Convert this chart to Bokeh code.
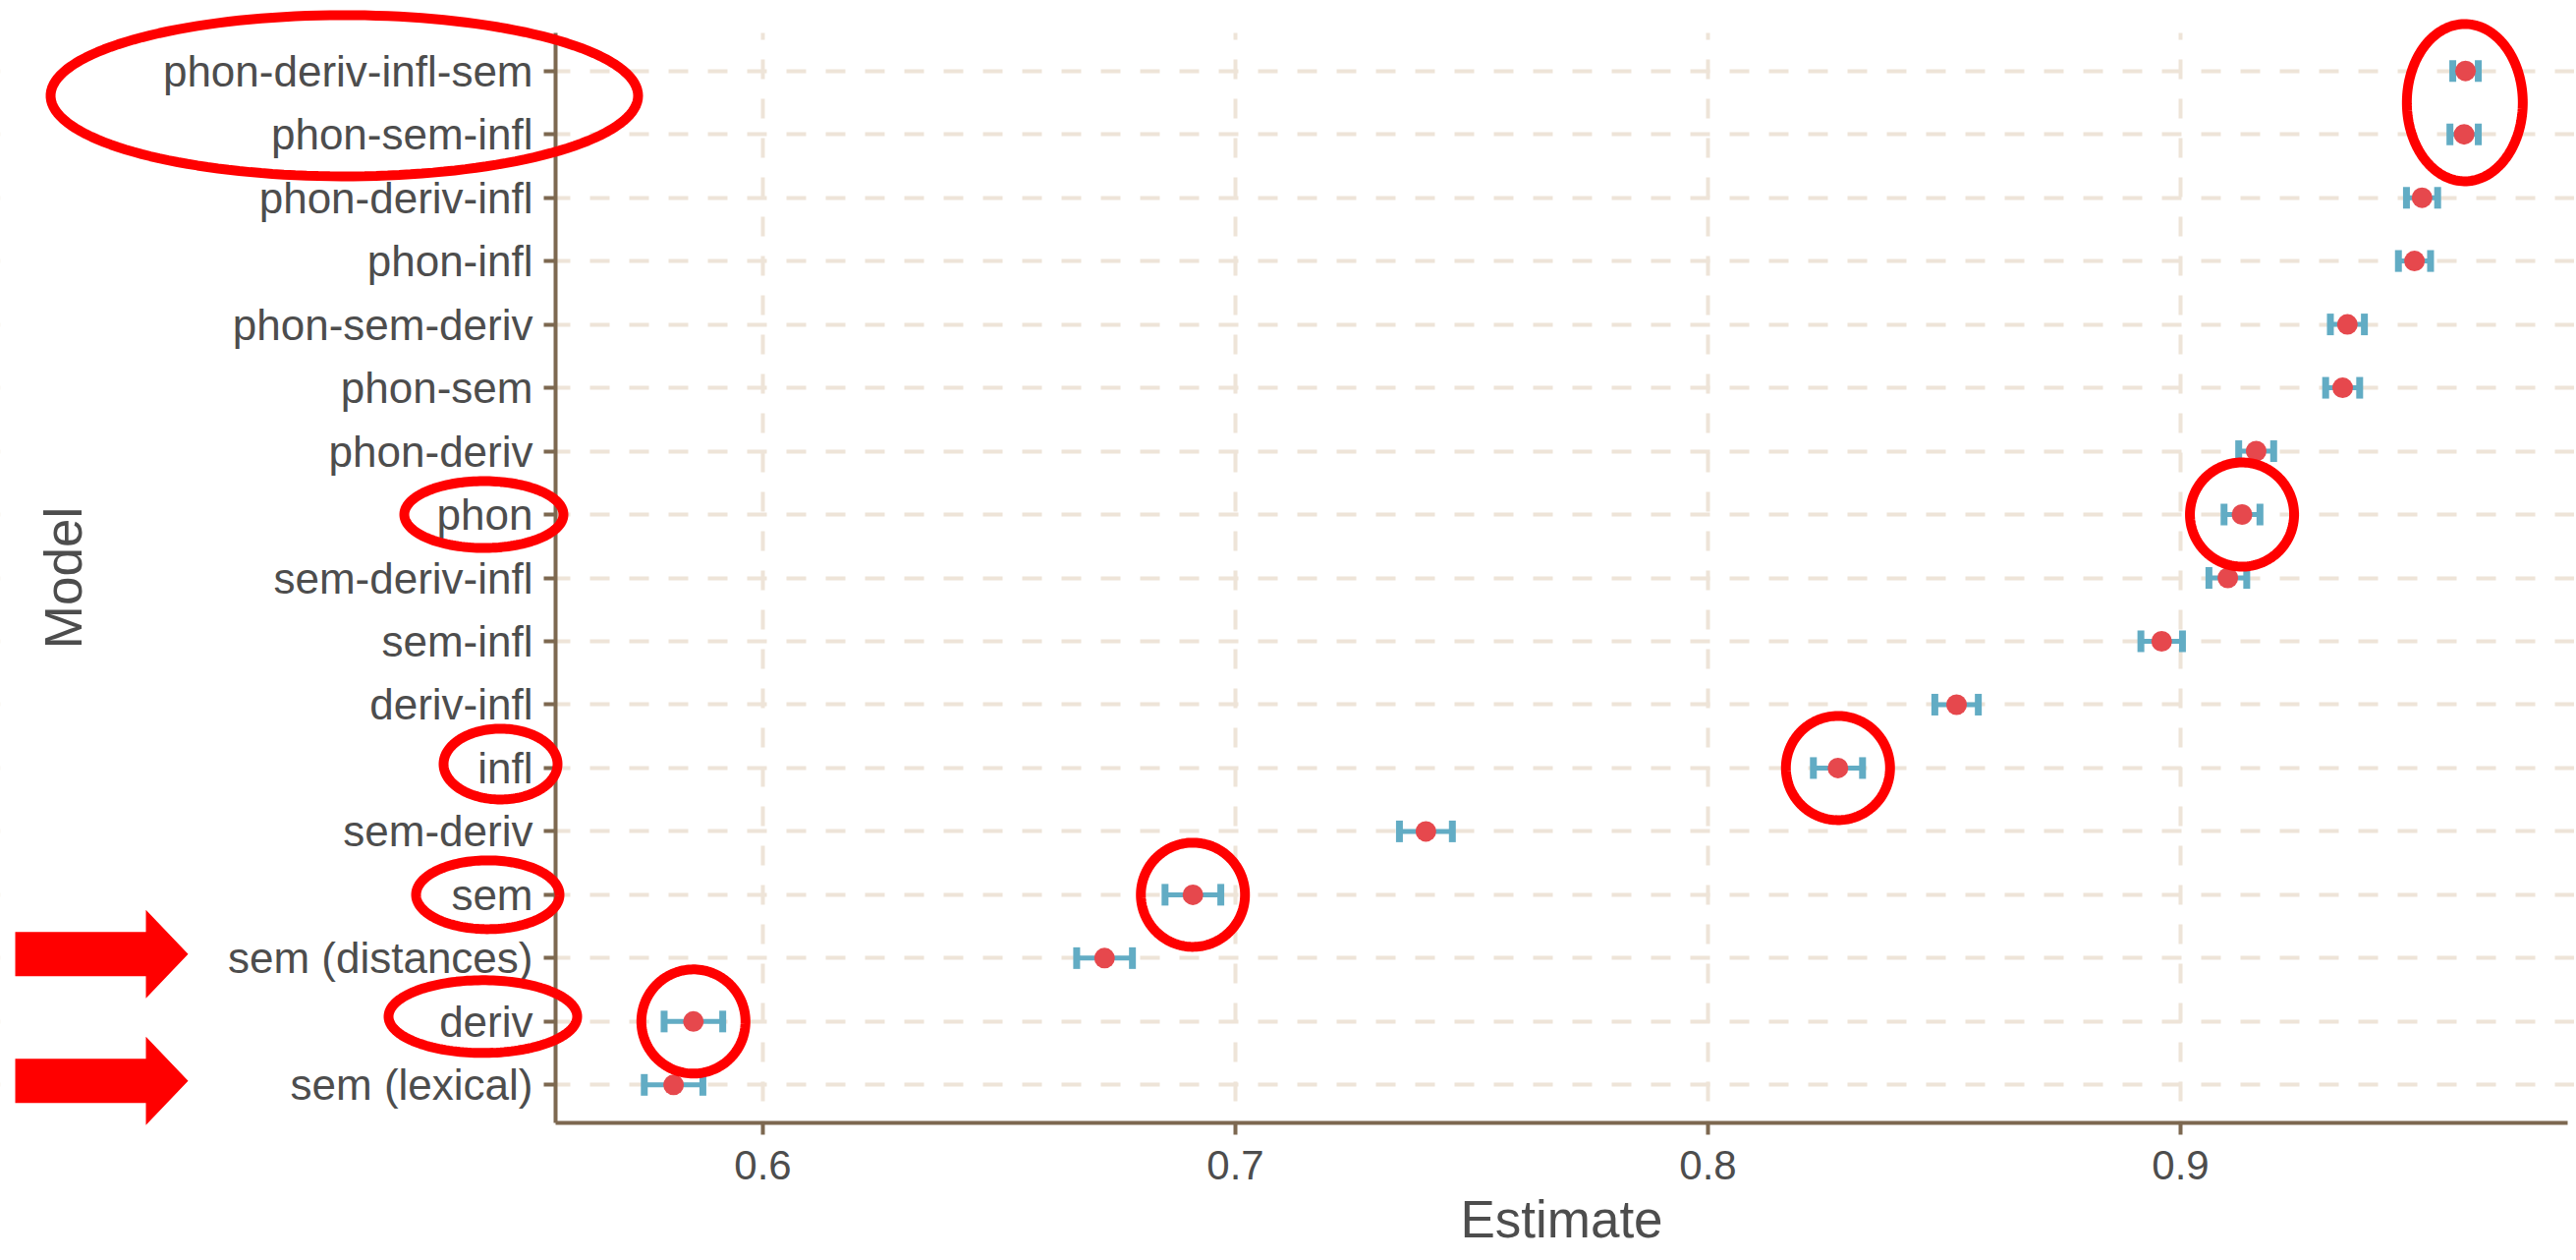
import numpy as np
from bokeh.plotting import figure
from bokeh.models import (ColumnDataSource, Range1d, FixedTicker, Whisker, TeeHead,
                          PolyAnnotation, BoxAnnotation)
from bokeh.embed import file_html
from bokeh.resources import INLINE

# ---------------- data (top to bottom) ----------------
models = ["phon-deriv-infl-sem", "phon-sem-infl", "phon-deriv-infl", "phon-infl",
          "phon-sem-deriv", "phon-sem", "phon-deriv", "phon", "sem-deriv-infl",
          "sem-infl", "deriv-infl", "infl", "sem-deriv", "sem", "sem (distances)",
          "deriv", "sem (lexical)"]
estimates = [0.9603, 0.9600, 0.9511, 0.9495, 0.9353, 0.9343, 0.9160, 0.9130, 0.9100,
             0.8960, 0.8526, 0.8275, 0.7403, 0.6910, 0.6723, 0.5853, 0.5811]
ci_half = [0.0027, 0.0030, 0.0033, 0.0034, 0.0036, 0.0036, 0.0037, 0.0038, 0.0040,
           0.0044, 0.0046, 0.0052, 0.0056, 0.0059, 0.0059, 0.0062, 0.0062]
x_ticks = [0.6, 0.7, 0.8, 0.9]

# highlighted groups (red ovals) and arrowed rows
highlight_groups = [["phon-deriv-infl-sem", "phon-sem-infl"], ["phon"], ["infl"], ["sem"], ["deriv"]]
arrow_models = ["sem (distances)", "sem (lexical)"]

# ---------------- layout ----------------
W, H = 2620, 1280
DATA_W, DATA_H = 2048, 1109          # panel size in px
PAD_L, PAD_R, PAD_T, PAD_B = 565, W - 565 - 2048, 33, H - 33 - 1109

n = len(models)
ypos = [n - i for i in range(n)]
lows = [e - h for e, h in zip(estimates, ci_half)]
highs = [e + h for e, h in zip(estimates, ci_half)]
x0, x1 = 0.55613, 0.98191
y0, y1 = 0.4, n + 0.6
ppx = DATA_W / (x1 - x0)
ppy = DATA_H / (y1 - y0)
fx0, fx1 = x0 - PAD_L / ppx, x1 + PAD_R / ppx
fy0, fy1 = y0 - PAD_B / ppy, y1 + PAD_T / ppy

AXIS = "#7D6850"
GRID = "#EEE4D8"
RED_PT = "#E6484D"
TEAL = "#62ACC4"
TXT = "#4D4D4D"
FONT = "Liberation Sans"
HL = "#FF0000"

p = figure(width=W, height=H, x_range=Range1d(fx0, fx1), y_range=Range1d(fy0, fy1),
           output_backend="svg", toolbar_location=None,
           min_border_left=0, min_border_right=0, min_border_top=0, min_border_bottom=0)
p.outline_line_color = None
p.background_fill_color = "white"
p.border_fill_color = "white"

# axes
for ax in (p.xaxis[0], p.yaxis[0]):
    ax.axis_line_color = AXIS
    ax.axis_line_width = 4
    ax.major_tick_line_color = AXIS
    ax.major_tick_line_width = 4
    ax.major_tick_out = 12
    ax.major_tick_in = 0
    ax.minor_tick_line_color = None
    ax.major_label_text_font = FONT
    ax.major_label_text_color = TXT
    ax.axis_label_text_font = FONT
    ax.axis_label_text_font_size = "53px"
    ax.axis_label_text_font_style = "normal"
    ax.axis_label_text_color = TXT

p.xaxis.ticker = FixedTicker(ticks=x_ticks)
p.xaxis.fixed_location = y0
p.xaxis.bounds = (x0, x1)
p.xaxis.axis_label = "Estimate"
p.xaxis.major_label_text_font_size = "42px"
p.xaxis.major_label_standoff = 16
p.xaxis.axis_label_standoff = 8

p.yaxis.ticker = FixedTicker(ticks=ypos)
p.yaxis.fixed_location = x0
p.yaxis.bounds = (y0, y1)
p.yaxis.major_label_overrides = {y: m for y, m in zip(ypos, models)}
p.yaxis.axis_label = "Model"
p.yaxis.major_label_text_font_size = "44px"
p.yaxis.major_label_standoff = 11
p.yaxis.axis_label_standoff = 69

for g in (p.xgrid[0], p.ygrid[0]):
    g.grid_line_color = GRID
    g.grid_line_width = 4
    g.grid_line_dash = "20 20"

# keep grid lines inside the panel: white covers outside it
for l, r, b, t_ in [(fx0, x0, fy0, fy1), (x0, fx1, y1, fy1), (x0, fx1, fy0, y0)]:
    p.add_layout(BoxAnnotation(left=l, right=r, bottom=b, top=t_, fill_color="white",
                               fill_alpha=1, line_color=None, level="underlay"))

# error bars
src = ColumnDataSource(dict(y=ypos, est=estimates, lo=lows, hi=highs, model=models))
whisk = Whisker(source=src, base="y", lower="lo", upper="hi", dimension="width",
                line_color=TEAL, line_width=5, level="underlay",
                lower_head=TeeHead(size=22, line_color=TEAL, line_width=7),
                upper_head=TeeHead(size=22, line_color=TEAL, line_width=7))
p.add_layout(whisk)

# points
p.scatter("est", "y", source=src, size=21, color=RED_PT, line_color=None)

# ---------------- red highlight annotations ----------------
t = np.linspace(0, 2 * np.pi, 160)
row_of = {m: y for m, y in zip(models, ypos)}
est_of = {m: e for m, e in zip(models, estimates)}

# point ovals: (rx px, ry px)
point_oval_size = [(59, 80), (53, 53), (53, 53), (53, 53), (53, 53)]
# label ovals: (centre x offset from y axis px, rx px, ry px, vertical shift px)
label_oval_geom = [(-215, 299, 82, -7), (-73, 81, 34, 0), (-56, 58, 36, -4),
                   (-69, 73, 35, 0), (-74, 96, 37, -5)]

def oval(cx, cy, rx_px, ry_px):
    xs = cx + (rx_px / ppx) * np.cos(t)
    ys = cy + (ry_px / ppy) * np.sin(t)
    p.add_layout(PolyAnnotation(xs=list(xs), ys=list(ys), fill_alpha=0,
                                line_color=HL, line_alpha=1, line_width=10))

for grp, (rx, ry), (lcx, lrx, lry, dy) in zip(highlight_groups, point_oval_size, label_oval_geom):
    cy = float(np.mean([row_of[m] for m in grp]))
    cx = float(np.mean([est_of[m] for m in grp]))
    oval(cx, cy, rx, ry)
    oval(x0 + lcx / ppx, cy - dy / ppy, lrx, lry)

# arrows pointing at rows
for m in arrow_models:
    cy = row_of[m] + 4 / ppy
    bh, hh = 22.5 / ppy, 45 / ppy
    xa, xb, xc = x0 - 550 / ppx, x0 - 417 / ppx, x0 - 374 / ppx
    axs = [xa, xb, xb, xc, xb, xb, xa]
    ays = [cy + bh, cy + bh, cy + hh, cy, cy - hh, cy - bh, cy - bh]
    p.add_layout(PolyAnnotation(xs=axs, ys=ays, fill_color=HL, fill_alpha=1,
                                line_color=None))

open("out.html", "w").write(file_html(p, INLINE))
